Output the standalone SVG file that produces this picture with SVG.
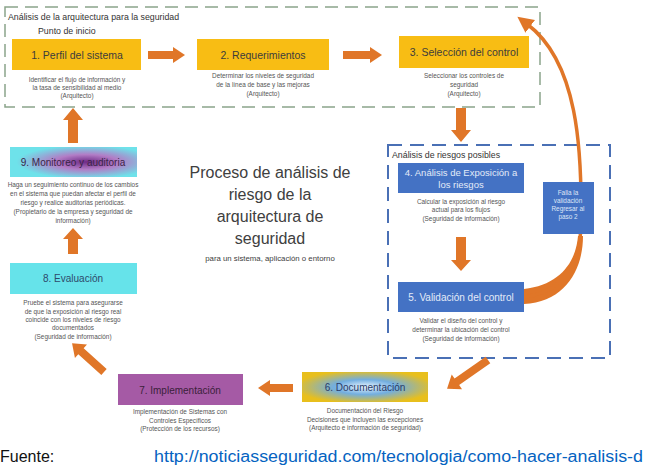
<svg xmlns="http://www.w3.org/2000/svg" width="645" height="466" viewBox="0 0 645 466">
<style>
  text { font-family: "Liberation Sans", Arial, sans-serif; }
  .h { font-size: 10.5px; fill: #3c3c3c; text-anchor: middle; }
  .hw { font-size: 9.5px; fill: #e3ebf8; text-anchor: middle; }
  .s { font-size: 6.4px; fill: #555; text-anchor: middle; }
  .lbl { font-size: 8.8px; fill: #333; }
  .arr { fill: #e07628; }
  .yel { fill: #f8bd14; }
  .blu { fill: #4472c4; }
</style>
<defs>
  <radialGradient id="g9" cx="0.6" cy="0.5" r="0.55">
    <stop offset="0" stop-color="#6f2a86"/>
    <stop offset="0.45" stop-color="#b27cc6"/>
    <stop offset="1" stop-color="#6ee2ea"/>
  </radialGradient>
  <radialGradient id="g6" cx="0.5" cy="0.5" r="0.55">
    <stop offset="0" stop-color="#eaf5ff"/>
    <stop offset="0.45" stop-color="#72aee0"/>
    <stop offset="1" stop-color="#e8bf1c"/>
  </radialGradient>
  <marker id="head" markerUnits="userSpaceOnUse" markerWidth="18" markerHeight="18" refX="4" refY="9" orient="auto">
    <path d="M0,1 L16,9 L0,17 Z" fill="#e07628"/>
  </marker>
</defs>

<!-- Frames -->
<g id="frame-arquitectura">
  <rect x="5" y="7" width="535" height="100" fill="none" stroke="#8aa48a" stroke-width="1.5" stroke-dasharray="13 7"/>
  <text class="lbl" x="8" y="20">Análisis de la arquitectura para la seguridad</text>
  <text class="lbl" x="38" y="34">Punto de inicio</text>
</g>
<g id="frame-riesgos">
  <rect x="388" y="145" width="222" height="213" fill="none" stroke="#4a70b5" stroke-width="2" stroke-dasharray="14 8"/>
  <text class="lbl" x="392" y="158">Análisis de riesgos posibles</text>
</g>

<!-- Connectors -->
<g id="connectors">
  <!-- 1 -> 2 -->
  <polygon class="arr" points="148,51 173,51 173,47 185,55 173,63 173,59 148,59"/>
  <!-- 2 -> 3 -->
  <polygon class="arr" points="343,51 370,51 370,47 382,55 370,63 370,59 343,59"/>
  <!-- 3 -> 4 -->
  <polygon class="arr" points="456,108 466,108 466,130 471,130 461,142 451,130 456,130"/>
  <!-- 4 -> 5 -->
  <polygon class="arr" points="456,237 466,237 466,260 471,260 461,271 451,260 456,260"/>
  <!-- 5 -> 2 curved (fail) -->
  <path d="M524,289 C560,285 576,262 578,236 L583,236 C583,270 565,302 524,304 Z" class="arr"/>
  <path d="M525,297 C566,291 581,262 581,222 C582,150 578,62 527,24" fill="none" stroke="#e07628" stroke-width="3.5" marker-end="url(#head)"/>
  <!-- 5 -> 6 -->
  <polygon class="arr" points="0,-4 38,-4 38,-9 50,0 38,9 38,4 0,4" transform="translate(488,360) rotate(145)"/>
  <!-- 6 -> 7 -->
  <polygon class="arr" points="293,384 270,384 270,380 258,388 270,396 270,392 293,392"/>
  <!-- 7 -> 8 -->
  <polygon class="arr" points="0,-4 31,-4 31,-9 43,0 31,9 31,4 0,4" transform="translate(104,372) rotate(222)"/>
  <!-- 8 -> 9 -->
  <polygon class="arr" points="68,254 78,254 78,239 83,239 73,228 63,239 68,239"/>
  <!-- 9 -> start -->
  <polygon class="arr" points="68,143 78,143 78,120 83,120 73,108 63,120 68,120"/>
</g>

<!-- Nodes -->
<g id="n1">
  <rect class="yel" x="12" y="39" width="129" height="31"/>
  <text class="h" x="77" y="59">1. Perfil del sistema</text>
  <text class="s" x="77" y="82">Identificar el flujo de información y</text>
  <text class="s" x="77" y="90">la tasa de sensibilidad al medio</text>
  <text class="s" x="77" y="98">(Arquitecto)</text>
</g>
<g id="n2">
  <rect class="yel" x="197" y="39" width="132" height="31"/>
  <text class="h" x="263" y="59">2. Requerimientos</text>
  <text class="s" x="263" y="78">Determinar los niveles de seguridad</text>
  <text class="s" x="263" y="87">de la línea de base y las mejoras</text>
  <text class="s" x="263" y="96">(Arquitecto)</text>
</g>
<g id="n3">
  <rect class="yel" x="399" y="36" width="130" height="32"/>
  <text class="h" x="464" y="56">3. Selección del control</text>
  <text class="s" x="464" y="78">Seleccionar los controles de</text>
  <text class="s" x="464" y="87">seguridad</text>
  <text class="s" x="464" y="96">(Arquitecto)</text>
</g>
<g id="n4">
  <rect class="blu" x="398" y="163" width="126" height="30"/>
  <text class="hw" x="461" y="176">4. Análisis de Exposición a</text>
  <text class="hw" x="461" y="188">los riesgos</text>
  <text class="s" x="461" y="204">Calcular la exposición al riesgo</text>
  <text class="s" x="461" y="212">actual para los flujos</text>
  <text class="s" x="461" y="221">(Seguridad de información)</text>
</g>
<g id="n-falla">
  <rect class="blu" x="543" y="182" width="51" height="52"/>
  <text class="s" x="568" y="195" style="fill:#dfe7f7">Falla la</text>
  <text class="s" x="568" y="203" style="fill:#dfe7f7">validación</text>
  <text class="s" x="568" y="211" style="fill:#dfe7f7">Regresar al</text>
  <text class="s" x="568" y="219" style="fill:#dfe7f7">paso 2</text>
</g>
<g id="n5">
  <rect class="blu" x="398" y="282" width="126" height="30"/>
  <text class="hw" x="461" y="301" style="font-size:10px">5. Validación del control</text>
  <text class="s" x="461" y="323">Validar el diseño del control y</text>
  <text class="s" x="461" y="332">determinar la ubicación del control</text>
  <text class="s" x="461" y="341">(Seguridad de información)</text>
</g>
<g id="n6">
  <rect x="302" y="372" width="126" height="30" fill="url(#g6)"/>
  <text class="h" x="365" y="391" style="fill:#2a3b66;font-size:10px">6. Documentación</text>
  <text class="s" x="365" y="413">Documentación del Riesgo</text>
  <text class="s" x="365" y="422">Decisiones que incluyen las excepciones</text>
  <text class="s" x="365" y="430">(Arquitecto e información de seguridad)</text>
</g>
<g id="n7">
  <rect x="118" y="374" width="125" height="31" fill="#a55aa5"/>
  <text class="h" x="180" y="394" style="fill:#3a1f3a;font-size:10px">7. Implementación</text>
  <text class="s" x="180" y="414">Implementación de Sistemas con</text>
  <text class="s" x="180" y="423">Controles Específicos</text>
  <text class="s" x="180" y="431">(Protección de los recursos)</text>
</g>
<g id="n8">
  <rect x="10" y="263" width="127" height="31" fill="#66e3ea"/>
  <text class="h" x="73" y="282" style="fill:#2e4a6a;font-size:10px">8. Evaluación</text>
  <text class="s" x="73" y="305">Pruebe el sistema para asegurarse</text>
  <text class="s" x="73" y="314">de que la exposición al riesgo real</text>
  <text class="s" x="73" y="322">coincide con los niveles de riesgo</text>
  <text class="s" x="73" y="330">documentados</text>
  <text class="s" x="73" y="339">(Seguridad de información)</text>
</g>
<g id="n9">
  <rect x="10" y="147" width="127" height="30" fill="url(#g9)"/>
  <text class="h" x="73" y="166" style="fill:#3a2448;font-size:10px">9. Monitoreo y auditoria</text>
  <text class="s" x="73" y="187">Haga un seguimiento continuo de los cambios</text>
  <text class="s" x="73" y="196">en el sistema que puedan afectar el perfil de</text>
  <text class="s" x="73" y="205">riesgo y realice auditorias periódicas.</text>
  <text class="s" x="73" y="214">(Propietario de la empresa y seguridad de</text>
  <text class="s" x="73" y="223">información)</text>
</g>

<!-- Center title -->
<g id="title" font-size="16" fill="#404040" text-anchor="middle">
  <text x="270" y="178">Proceso de análisis de</text>
  <text x="270" y="200">riesgo de la</text>
  <text x="270" y="222">arquitectura de</text>
  <text x="270" y="244">seguridad</text>
  <text x="270" y="261" font-size="7.8">para un sistema, aplicación o entorno</text>
</g>

<!-- Footer -->
<g id="footer">
  <text x="0" y="462" font-size="16" fill="#111">Fuente:</text>
  <text x="154" y="462" font-size="16" fill="#0563c1" textLength="489" lengthAdjust="spacingAndGlyphs">http://noticiasseguridad.com/tecnologia/como-hacer-analisis-d</text>
</g>
</svg>
